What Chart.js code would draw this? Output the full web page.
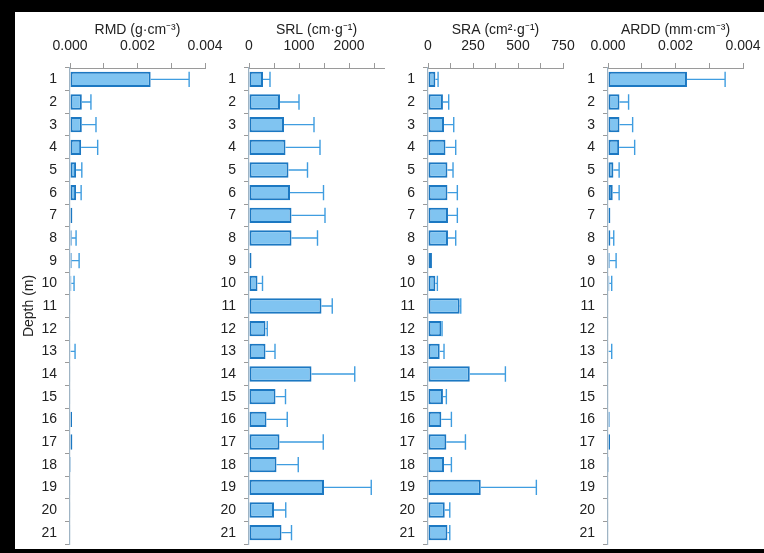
<!DOCTYPE html>
<html>
<head>
<meta charset="utf-8">
<script src="https://cdn.jsdelivr.net/npm/chart.js@4.4.1/dist/chart.umd.min.js"></script>
<style>
  html, body { margin: 0; padding: 0; }
  body { width: 764px; height: 553px; background: #000; position: relative; overflow: hidden; }
  #frame { position: absolute; left: 15px; top: 12px; width: 749px; height: 537px; background: #fff; }
  canvas { position: absolute; top: 12px; }
</style>
</head>
<body>
<div id="frame"></div>
<canvas id="rmdChart" width="215" height="537" style="left:15px"></canvas>
<canvas id="srlChart" width="215" height="537" style="left:194px"></canvas>
<canvas id="sraChart" width="215" height="537" style="left:373px"></canvas>
<canvas id="arddChart" width="215" height="537" style="left:553px"></canvas>
<script>
const depths = ["1", "2", "3", "4", "5", "6", "7", "8", "9", "10", "11", "12", "13", "14", "15", "16", "17", "18", "19", "20", "21"];

// root mass density, g/cm3
const rmdMean = [0.00239, 0.00035, 0.00035, 0.00033, 0.00018, 0.00018, 0.00007, 0.00005, 0.00005, 0.00004, 0.00001,
  0.00001, 0.00002, 0.00001, 0.00001, 0.00006, 0.00007, 0.00003, 0.00001, 0.00001, 0.00001];
const rmdErr = [0.00114, 0.00027, 0.00042, 0.00049, 0.00017, 0.00015, 0, 0.00013, 0.00022, 0.00008, 0,
  0, 0.00013, 0, 0, 0, 0, 0, 0, 0, 0];
const rmdTicks = [0, 0.001, 0.002, 0.003, 0.004];

// specific root length, cm/g
const srlMean = [280, 620, 700, 730, 790, 820, 850, 850, 50, 170, 1450, 330, 330, 1250, 530, 350, 610, 550, 1500, 500, 650];
const srlErr = [140, 380, 600, 690, 380, 670, 670, 520, 0, 100, 215, 35, 190, 865, 200, 415, 875, 435, 945, 235, 200];
const srlTicks = [0, 500, 1000, 1500, 2000, 2500];

// specific root area, cm2/g
const sraMean = [41, 83, 89, 97, 108, 108, 111, 111, 22, 41, 176, 74, 65, 232, 83, 74, 102, 89, 293, 93, 108];
const sraErr = [15, 32, 54, 57, 31, 55, 52, 43, 0, 11, 6, 4, 24, 198, 19, 56, 106, 41, 309, 28, 13];
const sraTicks = [0, 125, 250, 375, 500, 625, 750];

// average root diameter density, mm/cm3
const arddMean = [0.00234, 0.00034, 0.00034, 0.00033, 0.00016, 0.00014, 0.00007, 0.00007, 0.00005, 0.00004, 0.00001,
  0.00001, 0.00002, 0.00001, 0.00001, 0.00005, 0.00006, 0.00003, 0.00001, 0.00001, 0.00001];
const arddErr = [0.00113, 0.00027, 0.00039, 0.00046, 0.00017, 0.00019, 0, 0.00010, 0.00019, 0.00007, 0,
  0, 0.00009, 0, 0, 0, 0, 0, 0, 0, 0];
const arddTicks = [0, 0.001, 0.002, 0.003, 0.004];

const FONT = "'Liberation Sans', Arial, sans-serif";
const TEXT = "#222";
const AXIS = "#9a9a9a";

// draws the +SD whisker at the end of every bar
const errorBars = {
  id: "errorBars",
  afterDatasetsDraw(chart) {
    const ctx = chart.ctx;
    const xScale = chart.scales.x;
    const meta = chart.getDatasetMeta(0);
    const ds = chart.data.datasets[0];
    ctx.save();
    ctx.strokeStyle = "#3f9de0";
    ctx.lineWidth = 1.4;
    meta.data.forEach((bar, i) => {
      const err = ds.errors[i];
      if (!err) return;
      const x0 = bar.x;
      const x1 = xScale.getPixelForValue(ds.data[i] + err);
      const half = bar.height / 2;
      ctx.beginPath();
      ctx.moveTo(x0, bar.y);
      ctx.lineTo(x1, bar.y);
      ctx.moveTo(x1, bar.y - half);
      ctx.lineTo(x1, bar.y + half);
      ctx.stroke();
    });
    ctx.restore();
  }
};

function makePanel(id, title, means, errors, tickValues, axisMax, fmt, yTitle) {
  new Chart(document.getElementById(id), {
    type: "bar",
    data: {
      labels: depths,
      datasets: [{
        data: means,
        errors: errors,
        backgroundColor: "#80c4f1",
        borderColor: "#1c78c2",
        borderWidth: 2,
        borderSkipped: false,
        barPercentage: 0.68,
        categoryPercentage: 1
      }]
    },
    options: {
      indexAxis: "y",
      responsive: false,
      animation: false,
      devicePixelRatio: 1,
      layout: { padding: { top: 0, right: 25, bottom: 5, left: 0 } },
      plugins: { legend: { display: false }, tooltip: { enabled: false } },
      scales: {
        x: {
          position: "top",
          min: 0,
          max: axisMax,
          afterBuildTicks: s => { s.ticks = tickValues.map(v => ({ value: v })); },
          afterFit: s => { s.height = 56; s.paddingLeft = 0; s.paddingRight = 0; },
          title: {
            display: true,
            text: title,
            color: TEXT,
            font: { family: FONT, size: 14 },
            padding: { top: 10, bottom: 0 }
          },
          ticks: {
            maxRotation: 0,
            autoSkip: false,
            padding: 8,
            color: TEXT,
            font: { family: FONT, size: 14 },
            callback: (v, i) => (i % 2 === 0 ? fmt(v) : "")
          },
          grid: { drawOnChartArea: false, drawTicks: true, tickLength: 5, color: AXIS },
          border: { display: true, color: AXIS, width: 1 }
        },
        y: {
          afterFit: s => { s.width = 55; s.paddingTop = 0; s.paddingBottom = 0; },
          title: {
            display: !!yTitle,
            text: yTitle || "",
            color: TEXT,
            font: { family: FONT, size: 14 },
            padding: { top: 6, bottom: 0 }
          },
          ticks: {
            autoSkip: false,
            padding: 8,
            color: TEXT,
            font: { family: FONT, size: 14 }
          },
          grid: { drawOnChartArea: false, drawTicks: true, tickLength: 5, color: AXIS },
          border: { display: true, color: "#9fb4c4", width: 1.2 }
        }
      }
    },
    plugins: [errorBars]
  });
}

const fixed3 = v => v.toFixed(3);
const whole = v => String(Math.round(v));

makePanel("rmdChart", "RMD (g·cm⁻³)", rmdMean, rmdErr, rmdTicks, 0.004, fixed3, "Depth (m)");
makePanel("srlChart", "SRL (cm·g⁻¹)", srlMean, srlErr, srlTicks, 2700, whole);
makePanel("sraChart", "SRA (cm²·g⁻¹)", sraMean, sraErr, sraTicks, 750, whole);
makePanel("arddChart", "ARDD (mm·cm⁻³)", arddMean, arddErr, arddTicks, 0.004, fixed3);
</script>
</body>
</html>
